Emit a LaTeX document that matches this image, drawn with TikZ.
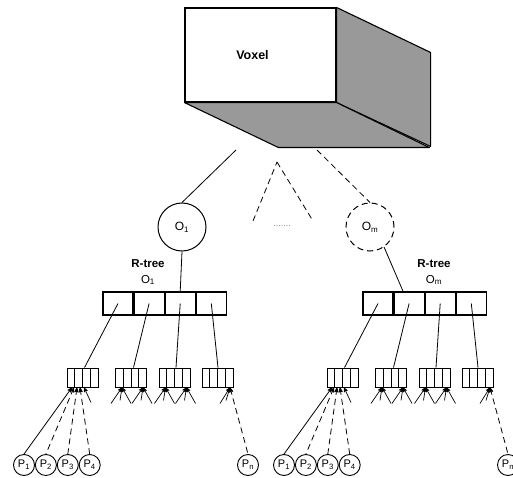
\documentclass[tikz,border=0pt]{standalone}
\usepackage{fontspec}
\setmainfont{Liberation Sans}
\usetikzlibrary{arrows, positioning, calc}
\definecolor{faceshade}{gray}{0.6}
\newcommand{\fanout}[1]{%
  \draw[stub] (#1) -- ++(-11,16);
  \draw[stub] (#1) -- ++(-2,13);
  \draw[stub] (#1) -- ++(9,16);}
\tikzset{
    %Define standard arrow tip
    >=stealth',
    %Define style for the voxel front face
    face/.style={
           rectangle,
           draw=black, line width=1.1pt,
           fill=white,
           minimum width=151pt,
           minimum height=94pt,
           font=\fontsize{12.5}{14}\selectfont\bfseries},
    % Define style for object circles
    obj/.style={
           circle,
           draw=black, line width=1pt,
           minimum size=48pt,
           inner sep=0pt,
           font=\fontsize{12}{13}\selectfont},
    % Define style for R-tree cells
    cell/.style={
           rectangle,
           draw=black, line width=1.1pt,
           minimum width=30pt,
           minimum height=23pt},
    % Define style for leaf nodes (4 slots)
    leafbox/.style={
           rectangle,
           draw=black, line width=0.9pt,
           minimum width=31pt,
           minimum height=19pt,
           inner sep=0pt,
           path picture={
             \foreach \k in {0.25,0.5,0.75}
               \draw[line width=0.8pt]
                 ($(path picture bounding box.south west)!\k!(path picture bounding box.south east)$) --
                 ($(path picture bounding box.north west)!\k!(path picture bounding box.north east)$);}},
    % Define style for points
    pnode/.style={
           circle,
           draw=black, line width=0.9pt,
           minimum size=21pt,
           inner sep=0pt,
           font=\fontsize{11}{11}\selectfont},
    % Define line styles
    link/.style={line width=0.8pt},
    dashline/.style={dash pattern=on 6pt off 4pt},
    stub/.style={<-, line width=0.7pt}
}
\begin{document}
\begin{tikzpicture}[x=1pt, y=-1pt, node distance=0pt]

\useasboundingbox (0,0) rectangle (513,478);

% Voxel box
\node[face] (voxel) at (260.5,55) {\hspace*{-16pt}Voxel};
\filldraw[fill=faceshade, line width=1.1pt, line join=round]
  (voxel.north east) -- ++(94,45) -- ++(0,94) -- (voxel.south east) -- cycle;
\filldraw[fill=faceshade, line width=1.1pt, line join=round]
  (voxel.south west) -- ++(94,45) -- ++(151,0) -- (voxel.south east) -- cycle;

% Objects
\node[obj] (O1) at (182,227) {O\textsubscript{1}};
\node[obj, dashline] (Om) at (370,227) {O\textsubscript{m}};
\coordinate (vs1) at (236,150);
\coordinate (vs2) at (317,150);
\coordinate (ta) at (277,162);
\coordinate (tl) at (253,221);
\coordinate (tr) at (313,221);
\node[font=\small, text=gray] (gap) at (282,226) {.......};

% R-tree labels
\node[align=center, font=\fontsize{11.5}{16}\selectfont] (lrt) at (148,272) {\textbf{R-tree}\\O\textsubscript{1}};
\node[align=center, font=\fontsize{11.5}{16}\selectfont] (rrt) at (434,272) {\textbf{R-tree}\\O\textsubscript{m}};

% The two R-trees
\foreach \side/\dx in {l/0, r/260} {
\begin{scope}[xshift=\dx]
  \node[cell] (\side c1) at (118,303.5) {};
  \node[cell] (\side c2) [right = of \side c1] {};
  \node[cell] (\side c3) [right = of \side c2] {};
  \node[cell] (\side c4) [right = of \side c3] {};
  \node[leafbox] (\side b1) at (82.5,377.5) {};
  \node[leafbox] (\side b2) at (131,377.5) {};
  \node[leafbox] (\side b3) at (174.5,377.5) {};
  \node[leafbox] (\side b4) at (217.5,377.5) {};
  \node[pnode] (\side p1) at (24,465) {P\textsubscript{1}};
  \node[pnode] (\side p2) [right = of \side p1] {P\textsubscript{2}};
  \node[pnode] (\side p3) [right = of \side p2] {P\textsubscript{3}};
  \node[pnode] (\side p4) [right = of \side p3] {P\textsubscript{4}};
  \node[pnode] (\side pn) at (248,465) {P\textsubscript{n}};
  \path
  % pointers to leaf nodes
  (\side c1.center) edge[link] ([xshift=2pt]\side b1.north)
  (\side c2.center) edge[link] ([xshift=2.5pt]\side b2.north)
  (\side c3.center) edge[link] ([xshift=1.5pt]\side b3.north)
  (\side c4.center) edge[link] ([xshift=0.5pt]\side b4.north)
  % pointers to points
  ([xshift=-10.5pt]\side b1.south) edge[link, <-] (\side p1.north)
  ([xshift=-8.5pt]\side b1.south) edge[link, <-, dashline] (\side p2.north)
  ([xshift=-5.5pt]\side b1.south) edge[link, <-, dashline] (\side p3.north)
  ([xshift=-2.5pt]\side b1.south) edge[link, <-, dashline] (\side p4.north)
  ([xshift=12.5pt]\side b4.south) edge[link, <-, dashline] (\side pn.north);
  \draw[stub] ([xshift=1.5pt]\side b1.south) -- ++(7,15);
  \fanout{[xshift=-9pt]\side b2.south}
  \fanout{[xshift=12pt]\side b2.south}
  \fanout{[xshift=-9pt]\side b3.south}
  \fanout{[xshift=12pt]\side b3.south}
  \draw[stub] ([xshift=12.5pt]\side b4.south) -- ++(-10,16);
  \draw[stub] ([xshift=12.5pt]\side b4.south) -- ++(-4,13);
\end{scope}
}

\path
% voxel to objects
(vs1) edge[link] (O1.north)
(vs2) edge[link, dashline] (Om.north)
(tl) edge[link, dashline] (ta)
(ta) edge[link, dashline] (tr)
% objects to R-trees
(O1.south) edge[link] (lc3.north)
(Om.-55) edge[link] ([xshift=-6pt]rc2.north);

\end{tikzpicture}
\end{document}
